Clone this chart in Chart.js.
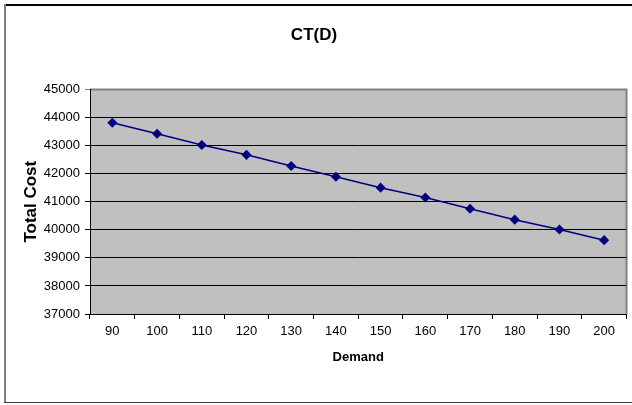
<!DOCTYPE html>
<html>
<head>
<meta charset="utf-8">
<script src="https://cdn.jsdelivr.net/npm/chart.js@4/dist/chart.umd.min.js"></script>
<style>
  html, body { margin: 0; padding: 0; background: #fff; }
  #wrap { width: 632px; height: 405px; }
</style>
</head>
<body>
<div id="wrap"><canvas id="ct"></canvas></div>
<script>
var demand = ['90', '100', '110', '120', '130', '140', '150', '160', '170', '180', '190', '200'];
var totalCost = [43810, 43420, 43020, 42670, 42270, 41890, 41500, 41150, 40750, 40360, 40010, 39630];
var yMin = 37000, yMax = 45000, yStep = 1000;

var sans = "'Liberation Sans', Arial, sans-serif";

// white page, frame round the chart and the grey plot area
var frame = {
    id: 'frame',
    beforeDraw: function (chart) {
        var c = chart.ctx, a = chart.chartArea;
        c.save();
        c.fillStyle = '#fff';
        c.fillRect(0, 0, chart.width, chart.height);
        c.fillStyle = '#000';
        c.fillRect(4, 4, chart.width, 2);
        c.fillStyle = '#808080';
        c.fillRect(4, 4, 2, 399);
        c.fillStyle = '#404040';
        c.fillRect(4, 402, chart.width, 1);
        c.fillStyle = '#c0c0c0';
        c.fillRect(a.left, a.top, a.right - a.left, a.bottom - a.top);
        c.strokeStyle = '#808080';
        c.lineWidth = 2;
        c.beginPath();
        c.moveTo(a.left, a.top);
        c.lineTo(a.right, a.top);
        c.lineTo(a.right, a.bottom);
        c.stroke();
        c.restore();
    }
};

Chart.defaults.font.family = sans;
Chart.defaults.color = '#000';

new Chart(document.getElementById('ct'), {
    type: 'line',
    data: {
        labels: demand,
        datasets: [{
            data: totalCost,
            borderColor: '#000080',
            backgroundColor: '#000080',
            borderWidth: 1.5,
            pointStyle: 'rectRot',
            pointRadius: 4,
            pointHoverRadius: 4,
            tension: 0
        }]
    },
    options: {
        responsive: true,
        maintainAspectRatio: false,
        animation: false,
        devicePixelRatio: 1,
        layout: { padding: { left: 0, right: 4, top: 0, bottom: 0 } },
        plugins: {
            legend: { display: false },
            tooltip: { enabled: false },
            title: {
                display: true,
                text: 'CT(D)',
                font: { size: 17, weight: 'bold' },
                color: '#000',
                padding: { top: 25, bottom: 44 }
            }
        },
        scales: {
            x: {
                offset: true,
                grid: { offset: true, drawOnChartArea: false, color: '#000', tickLength: 5 },
                border: { color: '#000', width: 1 },
                ticks: { font: { size: 13 }, padding: 5, maxRotation: 0 },
                title: { display: true, text: 'Demand', font: { size: 13, weight: 'bold' }, padding: { top: 4, bottom: 40 } },
                afterFit: function (s) { s.height = 91; }
            },
            y: {
                min: yMin,
                max: yMax,
                grid: {
                    color: function (ctx) { return ctx.tick && ctx.tick.value === yMax ? '#808080' : '#000'; },
                    tickLength: 5
                },
                border: { color: '#000', width: 1 },
                ticks: {
                    stepSize: yStep,
                    font: { size: 13 },
                    padding: 5,
                    callback: function (v) { return String(v); }
                },
                title: { display: true, text: 'Total Cost', font: { size: 17, weight: 'bold' }, padding: { top: 21 } },
                afterFit: function (s) { s.width = 90; }
            }
        }
    },
    plugins: [frame]
});
</script>
</body>
</html>
